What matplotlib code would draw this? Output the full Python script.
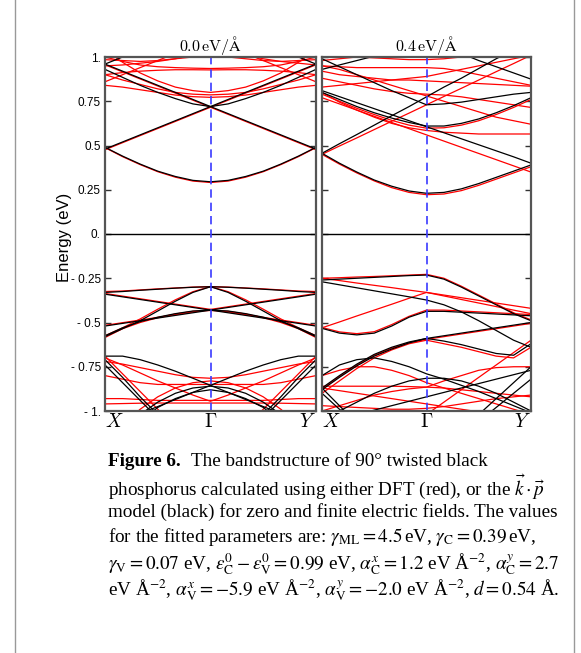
import numpy as np
import matplotlib
matplotlib.use('Agg')
import matplotlib.pyplot as plt
from matplotlib.lines import Line2D

nan = np.nan

# sampled k-path: X -> Gamma -> Y (13 points, Gamma at index 6)
kpath = np.linspace(0, 1, 13)
path_labels = ['$X$', r'$\Gamma$', '$Y$']
panel_titles = [r'$0.0\,\mathrm{eV}/\mathrm{\AA}$', r'$0.4\,\mathrm{eV}/\mathrm{\AA}$']
ytick_vals = [-1, -0.75, -0.5, -0.25, 0, 0.25, 0.5, 0.75, 1]
ytick_text = ['- 1.', '- 0.75', '- 0.5', '- 0.25', '0.', '0.25', '0.5', '0.75', '1.']

# ---- 0.0 eV/A : k.p model (black)
left_black = [
    [0.49, 0.44, 0.395, 0.355, 0.325, 0.303, 0.295, 0.303, 0.325, 0.355, 0.395, 0.44, 0.49],
    [0.48, 0.52, 0.56, 0.60, 0.64, 0.68, 0.72, 0.76, 0.80, 0.84, 0.88, 0.92, 0.96],
    [0.96, 0.92, 0.88, 0.84, 0.80, 0.76, 0.72, 0.68, 0.64, 0.60, 0.56, 0.52, 0.48],
    [0.93, 0.885, 0.84, 0.80, 0.765, 0.735, 0.72, 0.735, 0.765, 0.80, 0.84, 0.885, 0.93],
    [0.96, 1.0, 1.04, 1.08, nan, nan, nan, nan, nan, nan, nan, nan, nan],
    [nan, nan, nan, nan, nan, nan, nan, nan, nan, 1.08, 1.04, 1.0, 0.96],
    [-0.33, -0.325, -0.318, -0.312, -0.306, -0.301, -0.298, -0.301, -0.306, -0.312, -0.318, -0.325, -0.33],
    [-0.58, -0.535, -0.49, -0.435, -0.38, -0.33, -0.298, -0.33, -0.38, -0.435, -0.49, -0.535, -0.58],
    [-0.34, -0.355, -0.37, -0.385, -0.40, -0.415, -0.43, -0.445, -0.46, -0.475, -0.49, -0.505, -0.52],
    [-0.52, -0.505, -0.49, -0.475, -0.46, -0.445, -0.43, -0.415, -0.40, -0.385, -0.37, -0.355, -0.34],
    [-0.575, -0.53, -0.495, -0.47, -0.45, -0.435, -0.43, -0.435, -0.45, -0.47, -0.495, -0.53, -0.575],
    [-0.69, -0.69, -0.71, -0.74, -0.775, -0.815, -0.855, -0.895, -0.935, -0.975, -1.015, nan, nan],
    [nan, nan, -1.015, -0.975, -0.935, -0.895, -0.855, -0.815, -0.775, -0.74, -0.71, -0.69, -0.69],
    [nan, -1.1, -1.02, -0.95, -0.90, -0.87, -0.86, -0.87, -0.90, -0.95, -1.02, -1.1, nan],
    [nan, nan, -1.06, -0.98, -0.93, -0.895, -0.88, -0.895, -0.93, -0.98, -1.06, nan, nan],
    [-0.71, -0.81, -0.92, -1.02, nan, nan, nan, nan, nan, nan, nan, nan, nan],
    [-0.74, -0.84, -0.94, -1.04, nan, nan, nan, nan, nan, nan, nan, nan, nan],
    [nan, nan, nan, nan, nan, nan, nan, nan, nan, -1.02, -0.92, -0.81, -0.71],
    [nan, nan, nan, nan, nan, nan, nan, nan, nan, -1.04, -0.94, -0.84, -0.74],
]

# ---- 0.0 eV/A : DFT (red)
left_red = [
    [0.488, 0.437, 0.392, 0.352, 0.321, 0.299, 0.291, 0.299, 0.321, 0.352, 0.392, 0.437, 0.488],
    [0.476, 0.516, 0.556, 0.596, 0.636, 0.676, 0.716, 0.756, 0.796, 0.836, 0.876, 0.916, 0.956],
    [0.956, 0.916, 0.876, 0.836, 0.796, 0.756, 0.716, 0.676, 0.636, 0.596, 0.556, 0.516, 0.476],
    [1.0, 0.975, 0.955, 0.945, 0.94, 0.937, 0.935, 0.937, 0.94, 0.945, 0.955, 0.975, 1.0],
    [0.90, 0.912, 0.92, 0.925, 0.928, 0.928, 0.927, 0.928, 0.928, 0.925, 0.92, 0.912, 0.90],
    [1.04, 0.97, 0.91, 0.865, 0.83, 0.81, 0.80, 0.81, 0.83, 0.865, 0.91, 0.97, 1.04],
    [0.90, 0.87, 0.845, 0.82, 0.80, 0.79, 0.786, 0.79, 0.80, 0.82, 0.845, 0.87, 0.90],
    [0.84, 0.83, 0.815, 0.80, 0.785, 0.776, 0.772, 0.776, 0.785, 0.80, 0.815, 0.83, 0.84],
    [0.86, 0.90, 0.94, 0.98, 1.02, nan, nan, nan, nan, nan, nan, nan, nan],
    [nan, nan, nan, nan, nan, nan, nan, nan, 1.02, 0.98, 0.94, 0.90, 0.86],
    [0.985, 0.98, 0.975, 0.98, 0.99, 1.0, 1.005, 1.0, 0.99, 0.98, 0.975, 0.98, 0.985],
    [0.95, 0.955, 0.965, 0.975, 0.99, 1.01, nan, nan, 1.01, 0.99, 0.975, 0.965, 0.955],
    [-0.325, -0.322, -0.316, -0.31, -0.305, -0.30, -0.297, -0.30, -0.305, -0.31, -0.316, -0.322, -0.325],
    [-0.575, -0.53, -0.48, -0.425, -0.372, -0.326, -0.297, -0.326, -0.372, -0.425, -0.48, -0.53, -0.575],
    [-0.336, -0.351, -0.366, -0.381, -0.396, -0.411, -0.426, -0.441, -0.456, -0.471, -0.486, -0.501, -0.516],
    [-0.516, -0.501, -0.486, -0.471, -0.456, -0.441, -0.426, -0.411, -0.396, -0.381, -0.366, -0.351, -0.336],
    [-0.585, -0.535, -0.50, -0.473, -0.452, -0.437, -0.432, -0.437, -0.452, -0.473, -0.50, -0.535, -0.585],
    [-0.70, -0.74, -0.785, -0.83, -0.87, -0.91, -0.945, -0.91, -0.87, -0.83, -0.785, -0.74, -0.70],
    [-0.72, -0.735, -0.755, -0.775, -0.795, -0.81, -0.815, -0.81, -0.795, -0.775, -0.755, -0.735, -0.72],
    [-0.80, -0.82, -0.84, -0.85, -0.85, -0.85, -0.85, -0.85, -0.85, -0.85, -0.84, -0.82, -0.80],
    [-0.93, -0.93, -0.935, -0.94, -0.94, -0.94, -0.94, -0.94, -0.94, -0.94, -0.935, -0.93, -0.93],
    [-0.96, -0.958, -0.956, -0.955, -0.955, -0.955, -0.955, -0.955, -0.955, -0.955, -0.956, -0.958, -0.96],
    [nan, -1.08, -0.99, -0.92, -0.87, -0.84, -0.83, -0.84, -0.87, -0.92, -0.99, -1.08, nan],
    [-0.69, -0.79, -0.89, -0.99, -1.09, nan, nan, nan, nan, nan, nan, nan, nan],
    [nan, nan, nan, nan, nan, nan, nan, nan, -1.09, -0.99, -0.89, -0.79, -0.69],
]

# ---- 0.4 eV/A : k.p model (black)
right_black = [
    [0.456, 0.40, 0.35, 0.305, 0.27, 0.243, 0.23, 0.235, 0.255, 0.285, 0.32, 0.355, 0.39],
    [0.456, 0.51, 0.562, 0.615, 0.668, 0.72, 0.775, 0.83, 0.88, 0.935, 0.99, 1.04, 1.09],
    [0.81, 0.776, 0.742, 0.708, 0.674, 0.64, 0.606, 0.572, 0.538, 0.504, 0.47, 0.436, 0.40],
    [0.80, 0.76, 0.72, 0.685, 0.655, 0.63, 0.61, 0.61, 0.625, 0.65, 0.685, 0.725, 0.77],
    [0.99, 0.945, 0.90, 0.855, 0.81, 0.77, 0.73, 0.735, 0.745, 0.76, 0.775, 0.79, 0.80],
    [0.93, 0.955, 0.98, 1.005, 1.03, nan, nan, nan, nan, nan, nan, nan, nan],
    [nan, nan, nan, nan, nan, nan, nan, nan, 1.02, 0.98, 0.945, 0.91, 0.875],
    [-0.26, -0.255, -0.25, -0.245, -0.24, -0.235, -0.232, -0.255, -0.30, -0.35, -0.40, -0.45, -0.49],
    [-0.27, -0.287, -0.304, -0.321, -0.338, -0.355, -0.373, -0.40, -0.44, -0.49, -0.545, -0.60, -0.64],
    [-0.533, -0.56, -0.57, -0.56, -0.52, -0.47, -0.437, -0.437, -0.442, -0.447, -0.452, -0.457, -0.462],
    [-0.87, -0.80, -0.735, -0.68, -0.64, -0.61, -0.59, -0.575, -0.56, -0.545, -0.53, -0.515, -0.50],
    [-0.88, -0.81, -0.745, -0.69, -0.65, -0.615, -0.59, -0.605, -0.625, -0.65, -0.675, -0.685, -0.62],
    [-0.80, -0.74, -0.71, -0.70, -0.72, -0.75, -0.79, -0.82, -0.855, -0.89, -0.93, -0.97, -1.01],
    [-1.05, -1.0, -0.95, -0.90, -0.86, -0.83, -0.815, -0.815, -0.83, -0.86, -0.90, -0.95, -1.0],
    [-0.87, -0.97, -1.07, nan, nan, nan, nan, nan, nan, nan, nan, nan, nan],
    [-0.90, -0.99, -1.08, nan, nan, nan, nan, nan, nan, nan, nan, nan, nan],
    [nan, -1.05, -1.02, -0.995, -0.97, -0.945, -0.92, -0.895, -0.87, -0.845, -0.82, -0.795, -0.77],
    [nan, nan, nan, nan, nan, nan, nan, nan, nan, -1.02, -0.93, -0.84, -0.75],
    [nan, nan, nan, nan, nan, nan, nan, nan, nan, -1.06, -0.98, -0.90, -0.82],
]

# ---- 0.4 eV/A : DFT (red)
right_red = [
    [0.45, 0.395, 0.345, 0.30, 0.262, 0.235, 0.222, 0.226, 0.245, 0.275, 0.31, 0.345, 0.38],
    [0.45, 0.497, 0.543, 0.59, 0.637, 0.683, 0.73, 0.777, 0.823, 0.87, 0.917, 0.963, 1.01],
    [0.77, 0.735, 0.70, 0.665, 0.63, 0.595, 0.56, 0.525, 0.49, 0.455, 0.42, 0.385, 0.35],
    [0.79, 0.75, 0.71, 0.675, 0.642, 0.615, 0.598, 0.60, 0.615, 0.64, 0.675, 0.715, 0.76],
    [0.88, 0.86, 0.84, 0.82, 0.805, 0.795, 0.79, 0.785, 0.775, 0.76, 0.745, 0.73, 0.715],
    [0.95, 0.945, 0.94, 0.94, 0.94, 0.94, 0.94, 0.935, 0.92, 0.90, 0.88, 0.86, 0.84],
    [0.92, 0.90, 0.89, 0.88, 0.87, 0.87, 0.865, 0.86, 0.855, 0.85, 0.845, 0.84, 0.835],
    [0.83, 0.84, 0.85, 0.86, 0.87, 0.88, 0.89, 0.91, 0.93, 0.95, 0.97, 0.99, 1.01],
    [0.95, 0.93, 0.90, 0.87, 0.84, 0.81, 0.78, 0.75, 0.72, 0.69, 0.66, 0.64, 0.62],
    [0.80, 0.745, 0.70, 0.66, 0.625, 0.60, 0.585, 0.575, 0.57, 0.565, 0.565, 0.565, 0.565],
    [0.98, 0.99, 1.0, 0.995, 0.99, 0.985, 0.985, 0.99, 1.0, nan, nan, nan, nan],
    [-0.25, -0.247, -0.243, -0.24, -0.236, -0.232, -0.228, -0.25, -0.295, -0.345, -0.395, -0.445, -0.485],
    [-0.25, -0.263, -0.277, -0.29, -0.303, -0.317, -0.33, -0.35, -0.37, -0.39, -0.41, -0.43, -0.45],
    [-0.53, -0.497, -0.463, -0.43, -0.397, -0.363, -0.33, -0.345, -0.36, -0.375, -0.39, -0.405, -0.42],
    [-0.528, -0.553, -0.563, -0.552, -0.512, -0.465, -0.43, -0.43, -0.435, -0.44, -0.445, -0.45, -0.455],
    [-0.875, -0.805, -0.74, -0.685, -0.645, -0.615, -0.595, -0.58, -0.565, -0.55, -0.535, -0.52, -0.505],
    [-0.90, -0.83, -0.76, -0.70, -0.655, -0.62, -0.60, -0.62, -0.64, -0.665, -0.69, -0.70, -0.64],
    [-0.86, -0.86, -0.86, -0.86, -0.86, -0.862, -0.865, -0.87, -0.88, -0.89, -0.90, -0.91, -0.92],
    [-1.0, -0.97, -0.94, -0.91, -0.89, -0.875, -0.865, -0.83, -0.80, -0.77, -0.755, -0.75, -0.75],
    [-0.80, -0.77, -0.75, -0.75, -0.77, -0.80, -0.84, -0.87, -0.90, -0.93, -0.96, -0.99, -1.02],
    [-0.87, -0.885, -0.90, -0.915, -0.93, -0.945, -0.96, -0.975, -0.99, -1.005, nan, nan, nan],
    [nan, nan, nan, nan, nan, nan, -1.02, -0.95, -0.88, -0.81, -0.74, -0.67, -0.60],
    [-0.97, -0.975, -0.98, -0.985, -0.99, -0.99, -0.985, -0.975, -0.96, -0.945, -0.93, -0.92, -0.91],
]

caption = [
    'phosphorus calculated using either DFT (red), or the $\\vec{k}\\cdot\\vec{p}$',
    'model (black) for zero and finite electric fields. The values',
    'for the fitted parameters are: $\\gamma_{\\rm ML}=4.5\\,$eV, $\\gamma_{\\rm C}=0.39\\,$eV,',
    '$\\gamma_{\\rm V}=0.07$ eV, $\\epsilon^0_{\\rm C}-\\epsilon^0_{\\rm V}=0.99$ eV, '
    '$\\alpha^x_{\\rm C}=1.2$ eV Å$^{-2}$, $\\alpha^y_{\\rm C}=2.7$',
    'eV Å$^{-2}$, $\\alpha^x_{\\rm V}=-5.9$ eV Å$^{-2}$, $\\alpha^y_{\\rm V}=-2.0$ eV Å$^{-2}$, $d=0.54$ Å.',
]

W, H = 581, 653
fig = plt.figure(figsize=(W / 100, H / 100), dpi=100)
axL = fig.add_axes([105 / W, 1 - 411 / H, 211 / W, 354 / H])
axR = fig.add_axes([322 / W, 1 - 411 / H, 209 / W, 354 / H])


def draw_panel(ax, red, black, title):
    for b in red:
        ax.plot(kpath, b, color='#ff0000', lw=0.9)
    for b in black:
        ax.plot(kpath, b, color='black', lw=0.9)
    ax.axhline(0, color='black', lw=1.0)
    ax.axvline(0.5, color='#3a3aff', lw=1.2, ls=(0, (5, 3)))
    ax.set_xlim(0, 1)
    ax.set_ylim(-1, 1)
    ax.set_xticks([0, 0.5, 1])
    ax.set_xticklabels(path_labels, math_fontfamily='cm', fontsize=14)
    ax.set_yticks(ytick_vals)
    ax.tick_params(axis='x', length=0, pad=1)
    ax.tick_params(axis='y', direction='in', length=4, width=1,
                   left=True, right=True, color='#333333')
    for s in ax.spines.values():
        s.set_color('#555555')
        s.set_linewidth(1.6)
    ax.set_title(title, math_fontfamily='cm', fontsize=11.5, pad=3)


draw_panel(axL, left_red, left_black, panel_titles[0])
draw_panel(axR, right_red, right_black, panel_titles[1])

axL.set_yticklabels(ytick_text, family='Liberation Sans', fontsize=8.5)
axR.set_yticklabels([])
axL.tick_params(axis='y', pad=3)
xl = axL.get_xticklabels()
xl[0].set_ha('left')
xl[2].set_ha('right')
xr = axR.get_xticklabels()
xr[0].set_ha('left')
xr[2].set_ha('right')

fig.text(65 / W, 1 - 237 / H, 'Energy (eV)', rotation=90, ha='center', va='center',
         family='Liberation Sans', fontsize=12)

# page frame
fig.add_artist(Line2D([15 / W, 15 / W], [0, 1], color='#999999', lw=1))
fig.add_artist(Line2D([574 / W, 574 / W], [0, 1], color='#999999', lw=1))

# caption
cap_x = 108 / W
cap_size = 13.8
fig.text(cap_x, 1 - 462 / H, 'Figure 6.', family='Liberation Serif', weight='bold',
         fontsize=cap_size, va='center')
fig.text(191 / W, 1 - 462 / H, 'The bandstructure of 90° twisted black',
         family='Liberation Serif', fontsize=cap_size, va='center')
line_y = [487, 512, 537, 564, 590]
for txt, yy in zip(caption, line_y):
    fig.text(cap_x, 1 - yy / H, txt, family='Liberation Serif', fontsize=cap_size,
             va='center', math_fontfamily='stix')

fig.savefig('out.png', dpi=100)
